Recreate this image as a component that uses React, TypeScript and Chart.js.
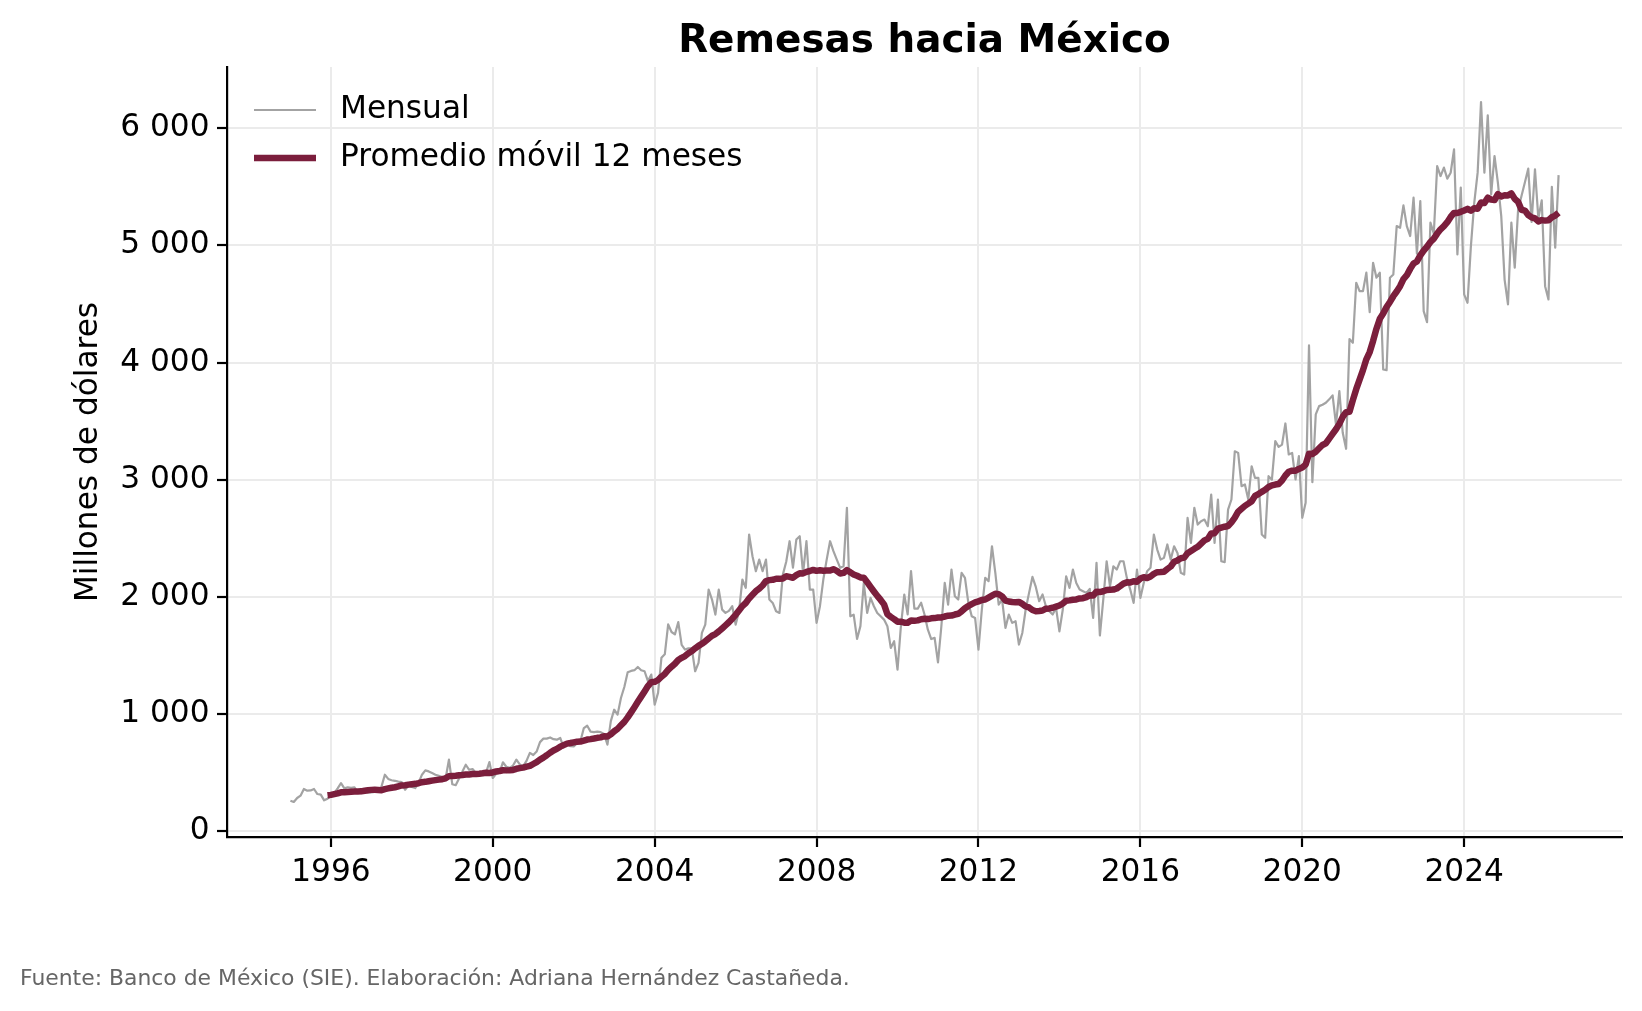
import { useEffect, useRef } from "react";
import { Chart, registerables } from "chart.js";

Chart.register(...registerables);

// Remesas mensuales (millones de dólares), enero 1995 – mayo 2026
const START_YEAR = 1995;
const R1995 = [260, 249, 283, 303, 360, 346, 348, 360, 317, 312, 263, 277];
const R1996 = [300, 325, 365, 410, 365, 375, 370, 375, 330, 325, 330, 330];
const R1997 = [330, 335, 345, 380, 482, 446, 435, 430, 423, 418, 354, 389];
const R1998 = [377, 368, 411, 482, 519, 510, 496, 482, 473, 462, 448, 610];
const R1999 = [400, 392, 450, 510, 567, 524, 530, 496, 500, 505, 500, 590];
const R2000 = [454, 490, 500, 588, 550, 540, 560, 611, 570, 555, 600, 668];
const R2001 = [650, 680, 760, 790, 790, 800, 785, 781, 796, 715, 755, 725];
const R2002 = [724, 750, 770, 880, 900, 850, 845, 850, 845, 830, 739, 939];
const R2003 = [1037, 995, 1137, 1231, 1356, 1368, 1374, 1402, 1374, 1365, 1280, 1337];
const R2004 = [1080, 1180, 1480, 1510, 1765, 1700, 1680, 1785, 1590, 1550, 1560, 1560];
const R2005 = [1365, 1436, 1692, 1763, 2062, 1977, 1849, 2062, 1891, 1863, 1880, 1920];
const R2006 = [1763, 1877, 2148, 2077, 2532, 2347, 2219, 2318, 2219, 2318, 1977, 1948];
const R2007 = [1877, 1863, 2190, 2300, 2475, 2250, 2489, 2518, 2200, 2475, 2062, 2062];
const R2008 = [1778, 1920, 2148, 2318, 2475, 2390, 2318, 2248, 2262, 2760, 1834, 1848];
const R2009 = [1641, 1750, 2119, 1863, 1991, 1920, 1863, 1834, 1806, 1749, 1564, 1621];
const R2010 = [1379, 1749, 2020, 1850, 2219, 1900, 1900, 1950, 1850, 1720, 1640, 1650];
const R2011 = [1441, 1749, 2119, 1934, 2233, 2005, 1977, 2205, 2162, 1949, 1835, 1820];
const R2012 = [1550, 1892, 2162, 2134, 2432, 2205, 1934, 1977, 1735, 1849, 1778, 1792];
const R2013 = [1593, 1692, 1892, 2034, 2170, 2085, 1963, 2020, 1920, 1877, 1849, 1906];
const R2014 = [1706, 1892, 2176, 2077, 2233, 2119, 2062, 2048, 2034, 2068, 1821, 2290];
const R2015 = [1670, 1977, 2304, 2090, 2261, 2233, 2304, 2304, 2162, 2062, 1949, 2233];
const R2016 = [1991, 2119, 2219, 2248, 2532, 2404, 2318, 2333, 2447, 2318, 2432, 2375];
const R2017 = [2205, 2190, 2675, 2461, 2760, 2617, 2646, 2660, 2603, 2873, 2461, 2831];
const R2018 = [2304, 2296, 2745, 2831, 3243, 3229, 2945, 2959, 2831, 3115, 3015, 3015];
const R2019 = [2532, 2504, 3030, 3000, 3330, 3280, 3300, 3480, 3215, 3229, 3002, 3201];
const R2020 = [2675, 2803, 4146, 2979, 3557, 3628, 3640, 3657, 3686, 3720, 3471, 3756];
const R2021 = [3400, 3264, 4200, 4169, 4681, 4610, 4610, 4767, 4431, 4852, 4724, 4767];
const R2022 = [3941, 3935, 4724, 4752, 5165, 5150, 5342, 5165, 5080, 5407, 4930, 5378];
const R2023 = [4439, 4345, 5194, 5100, 5677, 5592, 5664, 5570, 5620, 5820, 4923, 5493];
const R2024 = [4582, 4510, 4994, 5365, 5621, 6224, 5621, 6110, 5436, 5763, 5536, 5250];
const R2025 = [4706, 4497, 5194, 4810, 5308, 5422, 5536, 5655, 5200, 5650, 5230, 5384];
const R2026 = [4652, 4539, 5500, 4980, 5600];

const MONTHLY = [
  ...R1995, ...R1996, ...R1997, ...R1998, ...R1999, ...R2000, ...R2001, ...R2002,
  ...R2003, ...R2004, ...R2005, ...R2006, ...R2007, ...R2008, ...R2009, ...R2010,
  ...R2011, ...R2012, ...R2013, ...R2014, ...R2015, ...R2016, ...R2017, ...R2018,
  ...R2019, ...R2020, ...R2021, ...R2022, ...R2023, ...R2024, ...R2025, ...R2026,
];

const WINDOW = 12;
const X_TICKS = [1996, 2000, 2004, 2008, 2012, 2016, 2020, 2024];
const Y_TICKS = [0, 1000, 2000, 3000, 4000, 5000, 6000];

const TITLE = "Remesas hacia México";
const Y_LABEL = "Millones de dólares";
const SERIES_MONTHLY = "Mensual";
const SERIES_AVG = "Promedio móvil 12 meses";
const SOURCE = "Fuente: Banco de México (SIE). Elaboración: Adriana Hernández Castañeda.";

const W = 1642;
const H = 1011;
const FONT = "'DejaVu Sans', Verdana, sans-serif";
const LABEL_SIZE = 31.2;
const GREY = "#a3a3a3";
const WINE = "#7b1e3c";
const GRID = "#ebebeb";

const monthlyPoints = MONTHLY.map((v, i) => ({ x: START_YEAR + i / 12, y: v }));
const avgPoints = MONTHLY.map((_, i) => {
  if (i < WINDOW - 1) return null;
  let s = 0;
  for (let k = i - WINDOW + 1; k <= i; k++) s += MONTHLY[k];
  return { x: START_YEAR + i / 12, y: s / WINDOW };
}).filter((p) => p !== null) as { x: number; y: number }[];

// 5 % margins around the data, as in the usual autoscaling
const xFirst = monthlyPoints[0].x;
const xLast = monthlyPoints[monthlyPoints.length - 1].x;
const yLo = Math.min(...MONTHLY);
const yHi = Math.max(...MONTHLY);
const X_MIN = xFirst - 0.05 * (xLast - xFirst);
const X_MAX = xLast + 0.05 * (xLast - xFirst);
const Y_MIN = yLo - 0.05 * (yHi - yLo);
const Y_MAX = yHi + 0.05 * (yHi - yLo);

const fmtThousands = (v: number) =>
  Math.round(v).toString().replace(/\B(?=(\d{3})+(?!\d))/g, " ");

const decorations = {
  id: "decorations",
  afterDraw(chart: any) {
    const { ctx, chartArea: a } = chart;
    ctx.save();

    // title
    ctx.fillStyle = "#000";
    ctx.font = `bold 38.9px ${FONT}`;
    ctx.textAlign = "center";
    ctx.textBaseline = "alphabetic";
    ctx.fillText(TITLE, (a.left + a.right) / 2, 52);

    // y-axis label
    ctx.save();
    ctx.translate(89, (a.top + a.bottom) / 2);
    ctx.rotate(-Math.PI / 2);
    ctx.font = `${LABEL_SIZE}px ${FONT}`;
    ctx.textBaseline = "middle";
    ctx.fillText(Y_LABEL, 0, 0);
    ctx.restore();

    // legend
    const rows = [
      { label: SERIES_MONTHLY, color: GREY, width: 2.2, y: a.top + 43 },
      { label: SERIES_AVG, color: WINE, width: 6.5, y: a.top + 91 },
    ];
    ctx.font = `${LABEL_SIZE}px ${FONT}`;
    ctx.textAlign = "left";
    ctx.textBaseline = "middle";
    for (const r of rows) {
      ctx.beginPath();
      ctx.strokeStyle = r.color;
      ctx.lineWidth = r.width;
      ctx.lineCap = "butt";
      ctx.moveTo(a.left + 27, r.y);
      ctx.lineTo(a.left + 89, r.y);
      ctx.stroke();
      ctx.fillStyle = "#000";
      ctx.fillText(r.label, a.left + 113, r.y);
    }

    // source note
    ctx.fillStyle = "#666";
    ctx.font = `21.9px ${FONT}`;
    ctx.textAlign = "left";
    ctx.textBaseline = "middle";
    ctx.fillText(SOURCE, 20, 979);

    ctx.restore();
  },
};

export default function App() {
  const ref = useRef<HTMLCanvasElement>(null);

  useEffect(() => {
    const canvas = ref.current;
    if (!canvas) return;
    const tickFont = { family: FONT, size: LABEL_SIZE };
    const chart = new Chart(canvas, {
      type: "line",
      data: {
        datasets: [
          {
            label: SERIES_AVG,
            data: avgPoints,
            borderColor: WINE,
            borderWidth: 6.5,
            pointRadius: 0,
            tension: 0,
            borderJoinStyle: "round",
            order: 0,
          },
          {
            label: SERIES_MONTHLY,
            data: monthlyPoints,
            borderColor: GREY,
            borderWidth: 2.2,
            pointRadius: 0,
            tension: 0,
            borderJoinStyle: "round",
            order: 1,
          },
        ],
      },
      options: {
        animation: false,
        responsive: false,
        devicePixelRatio: 1,
        events: [],
        layout: { padding: { top: 67, right: 20, bottom: 0, left: 0 } },
        plugins: {
          legend: { display: false },
          title: { display: false },
          tooltip: { enabled: false },
        },
        scales: {
          x: {
            type: "linear",
            min: X_MIN,
            max: X_MAX,
            afterBuildTicks: (s: any) => {
              s.ticks = X_TICKS.map((v) => ({ value: v }));
            },
            afterFit: (s: any) => {
              s.height = 174;
            },
            grid: {
              color: GRID,
              lineWidth: 2,
              tickColor: "#000",
              tickWidth: 2.2,
              tickLength: 10,
            },
            border: { color: "#000", width: 2.2 },
            ticks: {
              font: tickFont,
              color: "#000",
              padding: 7,
              maxRotation: 0,
              autoSkip: false,
              callback: (v: any) => String(v),
            },
          },
          y: {
            type: "linear",
            min: Y_MIN,
            max: Y_MAX,
            afterBuildTicks: (s: any) => {
              s.ticks = Y_TICKS.map((v) => ({ value: v }));
            },
            afterFit: (s: any) => {
              s.width = 227;
            },
            grid: {
              color: GRID,
              lineWidth: 2,
              tickColor: "#000",
              tickWidth: 2.2,
              tickLength: 10,
            },
            border: { color: "#000", width: 2.2 },
            ticks: {
              font: tickFont,
              color: "#000",
              padding: 7.5,
              autoSkip: false,
              callback: (v: any) => fmtThousands(Number(v)),
            },
          },
        },
      },
      plugins: [decorations],
    } as any);
    return () => chart.destroy();
  }, []);

  return (
    <div
      style={{
        position: "fixed",
        left: 0,
        top: 0,
        width: W,
        height: H,
        background: "#fff",
      }}
    >
      <canvas ref={ref} width={W} height={H} style={{ width: W, height: H, display: "block" }} />
    </div>
  );
}
